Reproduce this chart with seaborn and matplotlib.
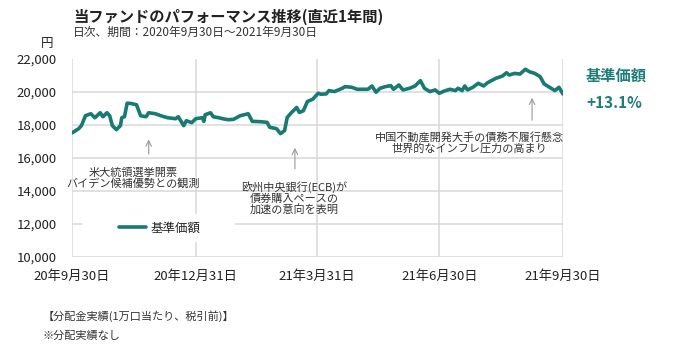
import matplotlib
matplotlib.use('Agg')
import pandas as pd
import matplotlib.pyplot as plt
import seaborn as sns
from matplotlib.patches import Rectangle

# NAV (基準価額)
dates = [
    "2020-09-30", "2020-10-05", "2020-10-07", "2020-10-10", "2020-10-14", "2020-10-17",
    "2020-10-21", "2020-10-23", "2020-10-26", "2020-10-28", "2020-10-30", "2020-11-02",
    "2020-11-05", "2020-11-06", "2020-11-08", "2020-11-10", "2020-11-13", "2020-11-17",
    "2020-11-20", "2020-11-24", "2020-11-26", "2020-12-01", "2020-12-05", "2020-12-10",
    "2020-12-16", "2020-12-18", "2020-12-22", "2020-12-24", "2020-12-28", "2020-12-31",
    "2021-01-05", "2021-01-06", "2021-01-07", "2021-01-11", "2021-01-13", "2021-01-17",
    "2021-01-20", "2021-01-24", "2021-01-28", "2021-02-02", "2021-02-08", "2021-02-11",
    "2021-02-17", "2021-02-22", "2021-02-24", "2021-03-01", "2021-03-04", "2021-03-07",
    "2021-03-09", "2021-03-12", "2021-03-16", "2021-03-18", "2021-03-21", "2021-03-24",
    "2021-03-28", "2021-04-01", "2021-04-03", "2021-04-07", "2021-04-09", "2021-04-13",
    "2021-04-16", "2021-04-19", "2021-04-21", "2021-04-26", "2021-04-30", "2021-05-08",
    "2021-05-11", "2021-05-14", "2021-05-17", "2021-05-21", "2021-05-25", "2021-05-27",
    "2021-05-31", "2021-06-03", "2021-06-08", "2021-06-12", "2021-06-16", "2021-06-19",
    "2021-06-23", "2021-06-27", "2021-06-30", "2021-07-04", "2021-07-08", "2021-07-12",
    "2021-07-14", "2021-07-17", "2021-07-19", "2021-07-21", "2021-07-25", "2021-07-29",
    "2021-08-02", "2021-08-05", "2021-08-11", "2021-08-16", "2021-08-19", "2021-08-21",
    "2021-08-25", "2021-08-29", "2021-09-02", "2021-09-05", "2021-09-09", "2021-09-13",
    "2021-09-16", "2021-09-20", "2021-09-24", "2021-09-27", "2021-09-30",
]
nav = [
    17500, 17760, 17940, 18540, 18660, 18420,
    18720, 18480, 18720, 18540, 17940, 17700,
    17940, 18420, 18480, 19300, 19280, 19200,
    18540, 18480, 18720, 18660, 18540, 18420,
    18360, 18480, 17940, 18240, 18120, 18360,
    18420, 18200, 18600, 18720, 18480, 18420,
    18360, 18300, 18320, 18540, 18660, 18200,
    18180, 18140, 17840, 17760, 17460, 17640,
    18440, 18720, 19040, 18740, 18840, 19400,
    19540, 19900, 19840, 19860, 20060, 20000,
    20100, 20200, 20300, 20260, 20140, 20140,
    20340, 19960, 20200, 20300, 20360, 20140,
    20400, 20100, 20200, 20340, 20660, 20200,
    20000, 20100, 19900, 20040, 20140, 20060,
    20200, 20060, 20340, 20100, 20260, 20500,
    20340, 20540, 20800, 20940, 21140, 21000,
    21100, 21060, 21350, 21200, 21100, 20900,
    20460, 20260, 20060, 20260, 19850,
]

tick_dates = ["2020-09-30", "2020-12-31", "2021-03-31", "2021-06-30", "2021-09-30"]
tick_labels = ["20年9月30日", "20年12月31日", "21年3月31日", "21年6月30日", "21年9月30日"]
y_ticks = [10000, 12000, 14000, 16000, 18000, 20000, 22000]

notes = [
    "米大統領選挙開票\nバイデン候補優勢との観測",
    "欧州中央銀行(ECB)が\n債券購入ペースの\n加速の意向を表明",
    "中国不動産開発大手の債務不履行懸念\n世界的なインフレ圧力の高まり",
]
series_name = "基準価額"
return_label = "+13.1%"

LINE = '#177a73'
TEAL_TXT = '#1e7d78'
GRID = '#d9d9d9'

sns.set_style('white')
plt.rcParams['font.family'] = ['Noto Sans CJK JP', 'DejaVu Sans']

df = pd.DataFrame({'date': pd.to_datetime(dates), 'nav': nav})

fig = plt.figure(figsize=(6.96, 3.51), dpi=100)
ax = fig.add_axes([72 / 696, 1 - 257 / 351, 491 / 696, 198.5 / 351])

sns.lineplot(data=df, x='date', y='nav', ax=ax, color=LINE, lw=2.6,
             label=series_name, zorder=3)

ax.set_xlim(pd.Timestamp(tick_dates[0]), pd.Timestamp(tick_dates[-1]))
ax.set_ylim(10000, 22000)
ax.set_yticks(y_ticks)
ax.set_yticklabels([f"{v:,}" for v in y_ticks])
ax.set_xticks(pd.to_datetime(tick_dates))
ax.set_xticklabels(tick_labels)
ax.set_axisbelow(True)
ax.grid(True, color=GRID, lw=1.1)
for s in ax.spines.values():
    s.set_visible(False)
ax.tick_params(axis='y', length=0, pad=11, labelsize=9.5, colors='#222222')
ax.tick_params(axis='x', length=3, color=GRID, pad=6, labelsize=9.5, labelcolor='#222222')
ax.set_xlabel('')
ax.set_ylabel('')

# white box behind the legend
ax.add_patch(Rectangle((0.0204, 0.0756), 0.312, 0.141, transform=ax.transAxes,
                       facecolor='white', edgecolor='none', zorder=1.5))
ax.legend(loc='center left', bbox_to_anchor=(0.0957, 0.146), frameon=False,
          borderaxespad=0, borderpad=0, handlelength=2.2, handletextpad=0.3,
          prop={'size': 9})

# arrows + notes
arrow_kw = dict(arrowstyle='->', color='#999999', lw=0.8)
for x, tip, tail in [(0.1562, 0.606, 0.505), (0.454, 0.564, 0.430), (0.937, 0.816, 0.675)]:
    ax.annotate('', xy=(x, tip), xytext=(x, tail), xycoords='axes fraction',
                textcoords='axes fraction', arrowprops=arrow_kw)
for txt, x, y in zip(notes, [0.124, 0.452, 0.81], [0.3985, 0.298, 0.5743]):
    ax.text(x, y, txt, transform=ax.transAxes, ha='center', va='center',
            fontsize=8, color='#333333', linespacing=1.0)

fig.text(73 / 696, 1 - 17 / 351, "当ファンドのパフォーマンス推移(直近1年間)",
         fontsize=11, fontweight='bold', color='#222222', va='center')
fig.text(73 / 696, 1 - 32 / 351, "日次、期間：2020年9月30日～2021年9月30日",
         fontsize=8.5, color='#333333', va='center')
fig.text(47 / 696, 1 - 43 / 351, "円", fontsize=9, color='#222222', ha='center', va='center')
fig.text(586 / 696, 1 - 75.7 / 351, series_name, fontsize=11, fontweight='bold',
         color=TEAL_TXT, va='center')
fig.text(586 / 696, 1 - 103 / 351, return_label, fontsize=11, fontweight='bold',
         color=TEAL_TXT, va='center')
fig.text(43 / 696, 1 - 316 / 351, "【分配金実績(1万口当たり、税引前)】",
         fontsize=8, color='#333333', va='center')
fig.text(43 / 696, 1 - 336 / 351, "※分配実績なし",
         fontsize=8, color='#333333', va='center')

fig.savefig('out.png', dpi=100)
